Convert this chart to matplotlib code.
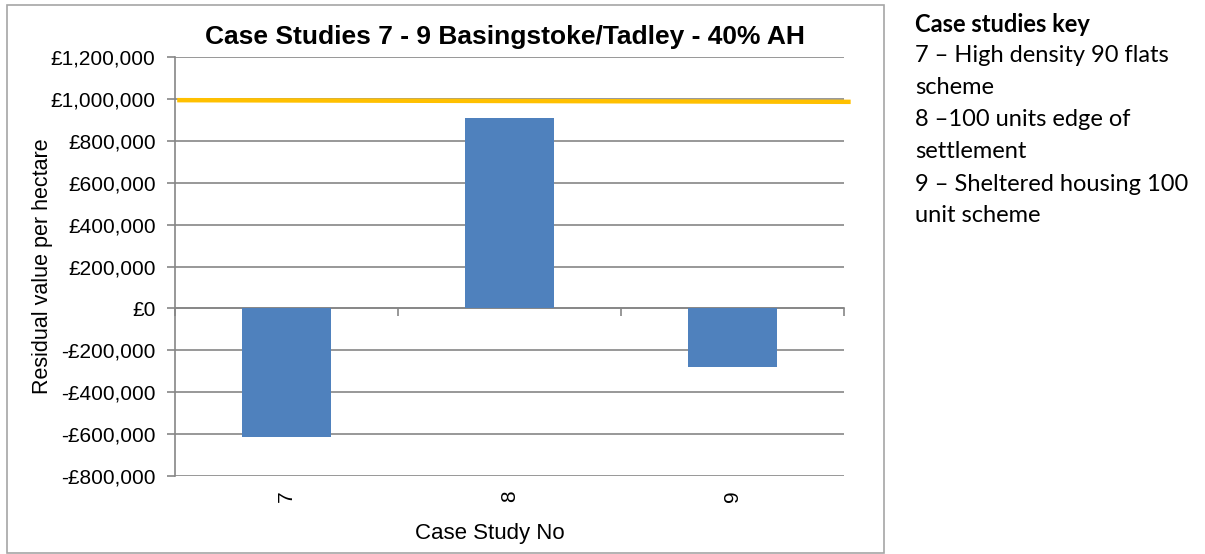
import matplotlib
matplotlib.use('Agg')

import matplotlib.pyplot as plt
from matplotlib.patches import Rectangle
from matplotlib.ticker import FuncFormatter

# Residual values per hectare for each case study
case_studies = ['7', '8', '9']
residual_values = [-615000, 910000, -280000]

# Benchmark line drawn across the chart (start / end value)
benchmark_x = [-0.48, 2.52]
benchmark_values = [994000, 986000]

# Key shown beside the chart
key_title = 'Case studies key'
key_lines = [
    '7 \u2013 High density 90 flats',
    'scheme',
    '8 \u2013100 units edge of',
    'settlement',
    '9 \u2013 Sheltered housing 100',
    'unit scheme',
]

BAR_COLOR = '#4F81BD'
LINE_COLOR = '#FFC000'
GRID_COLOR = '#868686'


def pounds(value, pos):
    if value < 0:
        return '-\u00a3{:,.0f}'.format(-value)
    return '\u00a3{:,.0f}'.format(value)


if __name__ == '__main__':

    plt.rcParams['font.family'] = ['Liberation Sans', 'DejaVu Sans']

    fig = plt.figure(figsize=(12.05, 5.54), dpi=100)
    ax = fig.add_axes([0.1452, 0.1408, 0.5552, 0.7563])

    # Outer chart frame
    fig.patches.append(Rectangle(
        (7 / 1205, 1 - 553 / 554), 877 / 1205, 548 / 554,
        transform=fig.transFigure, fill=False,
        edgecolor='#a6a6a6', linewidth=1.2
    ))

    positions = list(range(len(case_studies)))
    ax.bar(positions, residual_values, width=0.4, color=BAR_COLOR, zorder=3)

    ax.plot(benchmark_x, benchmark_values, color=LINE_COLOR,
            linewidth=3.2, zorder=4, clip_on=False)

    ax.set_xlim(-0.5, 2.5)
    ax.set_ylim(-800000, 1200000)
    ax.set_yticks(range(-800000, 1200001, 200000))
    ax.yaxis.set_major_formatter(FuncFormatter(pounds))
    ax.grid(axis='y', color=GRID_COLOR, linewidth=1.2, zorder=0)
    ax.tick_params(axis='y', length=6, width=1.2, color=GRID_COLOR,
                   labelsize=15, pad=8)

    # Category axis sits on the zero line with ticks between categories
    ax.spines['bottom'].set_position(('data', 0))
    ax.spines['bottom'].set_color(GRID_COLOR)
    ax.spines['bottom'].set_linewidth(1.2)
    ax.spines['left'].set_color(GRID_COLOR)
    ax.spines['left'].set_linewidth(1.2)
    ax.spines['top'].set_visible(False)
    ax.spines['right'].set_visible(False)
    ax.set_xticks(positions)
    ax.set_xticklabels([])
    ax.tick_params(axis='x', which='major', length=0)
    ax.set_xticks([-0.5, 0.5, 1.5, 2.5], minor=True)
    ax.tick_params(axis='x', which='minor', length=6, width=1.2,
                   color=GRID_COLOR, direction='out')

    # Category labels below the plot area
    sec = ax.secondary_xaxis(0.0)
    sec.set_xticks(positions)
    sec.set_xticklabels(case_studies, rotation=90, fontsize=15)
    sec.tick_params(length=0, pad=10)
    sec.spines['bottom'].set_visible(False)

    ax.set_ylabel('Residual value per hectare', fontsize=15.5, labelpad=-2)
    fig.text(490 / 1205, 1 - 533 / 554, 'Case Study No',
             fontsize=16, ha='center', va='center')
    fig.text(505 / 1205, 1 - 37 / 554,
             'Case Studies 7 - 9 Basingstoke/Tadley - 40% AH',
             fontsize=19, fontweight='bold', ha='center', va='center')

    # Key text on the right
    key_family = ['Lato', 'DejaVu Sans']
    fig.text(915 / 1205, 1 - 24 / 554, key_title, family=key_family,
             fontsize=17, fontweight='bold', ha='left', va='center')
    for i, line in enumerate(key_lines, 1):
        fig.text(915 / 1205, 1 - (24 + 32 * i) / 554, line,
                 family=key_family, fontsize=17, ha='left', va='center')

    fig.savefig('out.png', dpi=100)
